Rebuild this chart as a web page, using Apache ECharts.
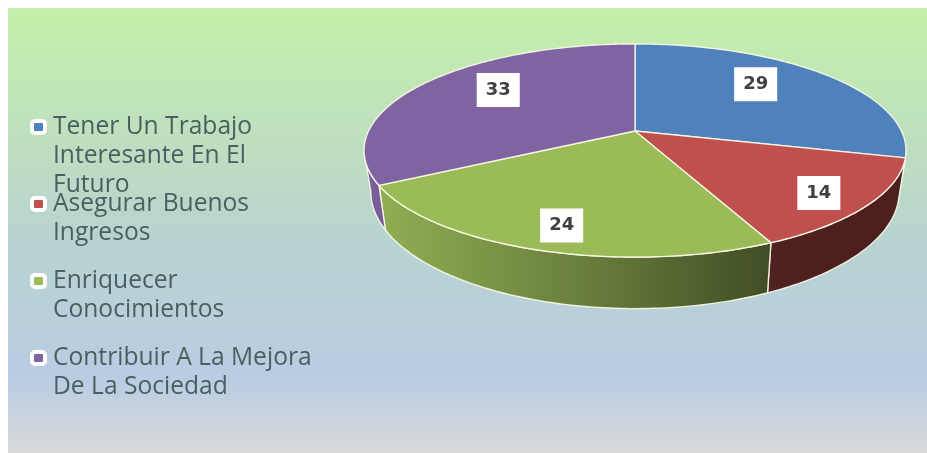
<!DOCTYPE html>
<html>
<head>
<meta charset="utf-8">
<style>html,body{margin:0;padding:0;background:#fff}#c{width:927px;height:453px;filter:blur(0.4px)}</style>
<script src="https://cdn.jsdelivr.net/npm/echarts@6/dist/echarts.min.js"></script>
</head>
<body>
<div id="c"></div>
<script>
const categories = ["Tener Un Trabajo\nInteresante En El\nFuturo", "Asegurar Buenos\nIngresos", "Enriquecer\nConocimientos", "Contribuir A La Mejora\nDe La Sociedad"];
const values = [29, 14, 24, 33];
const colors = ["#4f81bd", "#c0504d", "#9bbb59", "#8064a2"];
const labelSpread = [0.43, 0.53, 0.485, 0.56];
const labelRadius = [0.70, 0.825, 0.82, 0.70];
const legendCenters = [127, 204, 281, 358];

const total = values.reduce((a, b) => a + b, 0);
const starts = values.map((_, i) => values.slice(0, i).reduce((a, b) => a + b, 0));
const RAD = Math.PI / 180;
const P = 0.183;
const silhouette = Math.acos(-P) / RAD;

const top3d = { cx: 635, cy: 131, b: 266.4, a: 103 };
const bottom3d = { cx: 635, cy: 170.3, b: 259.7, a: 113 };
function project(g, deg, r) {
  const u = Math.sin(deg * RAD) * r, v = Math.cos(deg * RAD) * r, d = 1 + P * v;
  return [g.cx + g.b * u / d, g.cy - g.a * v / d];
}
function arc(g, from, to) {
  const pts = [], n = Math.max(2, Math.ceil(Math.abs(to - from)));
  for (let k = 0; k <= n; k++) pts.push(project(g, from + (to - from) * k / n, 1));
  return pts;
}
function shade(hex, f) {
  const n = parseInt(hex.slice(1), 16);
  return "rgb(" + [n >> 16 & 255, n >> 8 & 255, n & 255].map(c => Math.round(c * f)).join(",") + ")";
}
const seam = "rgba(255,255,235,0.85)";

function makeSeries(i) {
  return {
    type: "custom",
    name: categories[i],
    coordinateSystem: "none",
    itemStyle: { color: colors[i] },
    silent: true,
    data: [values[i]],
    renderItem: function (params, api) {
      const v = api.value(0);
      const s = starts[i] / total * 360, e = s + v / total * 360;
      const children = [];
      const ws = Math.max(s, silhouette), we = Math.min(e, 360 - silhouette);
      if (we > ws) {
        children.push({
          type: "polygon",
          z2: 1,
          shape: { points: arc(top3d, ws, we).concat(arc(bottom3d, we, ws)) },
          style: {
            fill: new echarts.graphic.LinearGradient(364, 0, 906, 0, [
              { offset: 0, color: shade(colors[i], 0.97) },
              { offset: 0.03, color: shade(colors[i], 0.93) },
              { offset: 0.43, color: shade(colors[i], 0.66) },
              { offset: 0.75, color: shade(colors[i], 0.41) },
              { offset: 1, color: shade(colors[i], 0.39) }
            ], true),
            stroke: seam, lineWidth: 1.4
          }
        });
      }
      children.push({
        type: "polygon",
        z2: 2,
        shape: { points: [project(top3d, 0, 0)].concat(arc(top3d, s, e)) },
        style: { fill: colors[i], stroke: seam, lineWidth: 1.4 }
      });
      const p = project(top3d, s + (e - s) * labelSpread[i], labelRadius[i]);
      children.push({
        type: "text",
        z2: 3,
        x: p[0], y: p[1],
        style: {
          text: String(v),
          align: "center", verticalAlign: "middle",
          font: "bold 18px 'DejaVu Sans'",
          fill: "#404040",
          backgroundColor: "#fff",
          padding: [9, 9, 7, 9]
        }
      });
      return { type: "group", children: children };
    }
  };
}

const LINE = 29;
const chart = echarts.init(document.getElementById("c"), null, { renderer: "canvas", width: 927, height: 453 });
chart.setOption({
  animation: false,
  graphic: [{
    type: "rect", z: -10, silent: true,
    shape: { x: 8, y: 8, width: 919, height: 445 },
    style: {
      fill: new echarts.graphic.LinearGradient(0, 8, 0, 453, [
        { offset: 0, color: "#c6efa9" },
        { offset: 0.2, color: "#c0e5b8" },
        { offset: 0.5, color: "#b8d4cf" },
        { offset: 0.83, color: "#b9cce3" },
        { offset: 1, color: "#d9d9d9" }
      ], true)
    }
  }],
  legend: categories.map((name, i) => {
    const lines = name.split("\n").length;
    return {
      show: true,
      data: [name],
      orient: "vertical",
      left: 30,
      top: legendCenters[i] - (2 * lines - 1) * LINE / 2,
      padding: 0,
      itemWidth: 13,
      itemHeight: 12,
      icon: "roundRect",
      selectedMode: false,
      itemStyle: { borderColor: "#ffffff", borderWidth: 4 },
      formatter: n => "\n".repeat(lines - 1) + n,
      textStyle: {
        fontFamily: "Open Sans",
        fontSize: 24.6,
        lineHeight: LINE,
        color: "#4a5f5f",
        padding: [0, 0, 0, 3]
      }
    };
  }),
  series: categories.map((_, i) => makeSeries(i))
});
</script>
</body>
</html>
